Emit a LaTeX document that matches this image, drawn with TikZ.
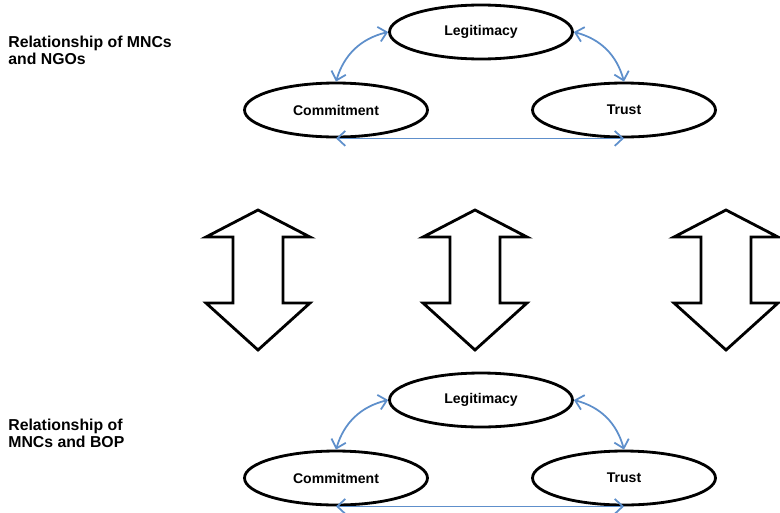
\documentclass[tikz,border=0pt]{standalone}
\usepackage{fontspec}
\setmainfont{Liberation Sans}
\usepackage{xcolor}
\usepackage{tikz}
\usetikzlibrary{positioning,arrows.meta,shapes.geometric}
\definecolor{linkblue}{HTML}{5E8FCB}
\tikzset{
  concept/.style ={ellipse, draw=black, line width=1.6pt, fill=white,
                   minimum width=3.66cm, minimum height=1.08cm,
                   inner sep=0pt, font=\bfseries\fontsize{8}{9}\selectfont},
  % two-headed blue link between the three concepts
  link/.style    ={draw=linkblue, line width=1pt,
                   {Straight Barb[length=1.6mm,width=3mm]}-{Straight Barb[length=1.6mm,width=3mm]}},
  sidelabel/.style={anchor=north west, align=left, inner sep=0pt,
                   font=\bfseries\fontsize{9}{9.6}\selectfont},
  bigarrow/.style={draw=black, line width=1.6pt, line join=miter, fill=white},
}
\newcommand{\relnet}[2]{% #1 = node-name prefix, #2 = shift coordinate
  \begin{scope}[shift={#2}]
    \node[concept] (#1L) at (0,0)      {Legitimacy};
    \node[concept] (#1C) at (-145,-78) {Commitment};
    \node[concept] (#1T) at (143,-78)  {Trust};
    \draw[link] (#1L.west) to[bend right=30] (#1C.north);
    \draw[link] (#1L.east) to[bend left=30]  (#1T.north);
    \draw[link] (#1C.south) -- (#1T.south);
  \end{scope}}
\newcommand{\updown}[2]{% #1 = name, #2 = centre x
  \draw[bigarrow] (#2,302) coordinate (#1) -- ++(52,-27) -- ++(-27,0) -- ++(0,-66)
    -- ++(27,0) -- ++(-52,-47) -- ++(-52,47) -- ++(27,0) -- ++(0,66)
    -- ++(-27,0) -- cycle;}

\begin{document}
\begin{tikzpicture}[x=0.02cm,y=0.02cm]
\useasboundingbox (0,0) rectangle (780,512);
\node[sidelabel] (top) at (8,476) {Relationship of MNCs\\and NGOs};
\relnet{N}{(481,480)}
\foreach \n/\x in {a1/258, a2/475, a3/726}
  {\updown{\n}{\x}}
\node[sidelabel] (bot) at (8,93) {Relationship of\\MNCs and BOP};
\relnet{B}{(481,112)}
\end{tikzpicture}
\end{document}
